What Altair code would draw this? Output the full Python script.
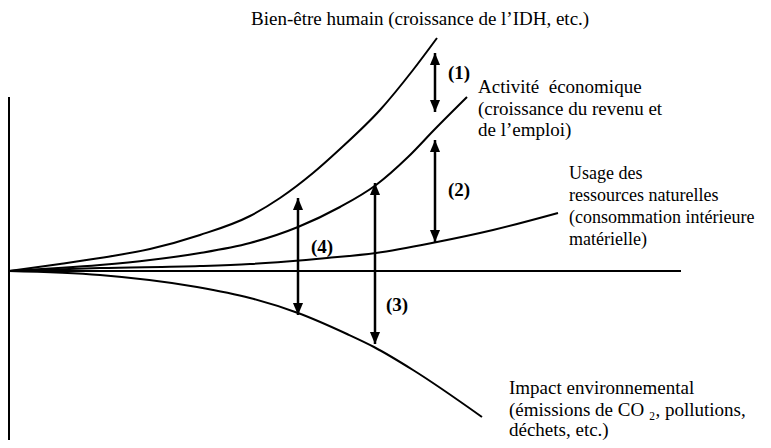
import altair as alt
import pandas as pd

# ---- curve data (t = time from origin, level = value relative to baseline) ----
wellbeing_t = [0, 51, 91, 141, 191, 241, 271, 304, 331, 371, 404, 428]
wellbeing_v = [0, 7, 13, 22, 36, 55, 73, 98, 122, 161, 201, 233]

activity_t = [0, 91, 141, 191, 241, 289, 331, 367, 399, 426, 458]
activity_v = [0, 6, 11, 18, 28, 44, 64, 86, 114, 142, 174]

resources_t = [0, 91, 191, 241, 318, 367, 428, 484, 549]
resources_v = [0, 3, 5, 7, 13, 18, 29, 41, 58]

impact_t = [0, 91, 188, 241, 289, 338, 365, 404, 473]
impact_v = [0, -4, -16, -27, -42, -63, -76, -99, -146]

# ---- axes (x, x2, y, y2) ----
axis_x = [0, 0]
axis_x2 = [672, 0]
axis_y = [0, 174]
axis_y2 = [0, -174]

# ---- double arrows ----
arrow_names = ["(1)", "(2)", "(4)", "(3)"]
arrow_t = [426, 426, 289, 366]
arrow_top = [218, 131, 73, 88]
arrow_bottom = [159, 29, -44, -73]
arrow_label_t = [450, 450, 313, 388]
arrow_label_v = [198, 81, 24, -34]

# ---- text labels ----
label_text = [
    "Bien-être humain (croissance de l’IDH, etc.)",
    "Activité\u00a0 économique",
    "(croissance du revenu et",
    "de l’emploi)",
    "Impact environnemental",
    "(émissions de CO\u00a0₂, pollutions,",
    "déchets, etc.)",
]
label_t = [242, 469, 469, 469, 500, 500, 500]
label_v = [252, 184, 162, 141, -117, -139, -159]

usage_text = [
    "Usage des",
    "ressources naturelles",
    "(consommation intérieure",
    "matérielle)",
]
usage_t = [560, 560, 560, 560]
usage_v = [97, 75, 53, 31]

# ---- build tables ----
rows = []
for name, ts, vs in [
    ("Bien-être", wellbeing_t, wellbeing_v),
    ("Activité", activity_t, activity_v),
    ("Ressources", resources_t, resources_v),
    ("Impact", impact_t, impact_v),
]:
    for t, v in zip(ts, vs):
        rows.append({"series": name, "t": t, "level": v})
curves = pd.DataFrame(rows)

axes_df = pd.DataFrame({"t": axis_x, "t2": axis_x2, "level": axis_y, "level2": axis_y2})
arrows_df = pd.DataFrame({"name": arrow_names, "t": arrow_t, "top": arrow_top, "bottom": arrow_bottom})
arrow_labels = pd.DataFrame({"text": arrow_names, "t": arrow_label_t, "level": arrow_label_v})
labels_df = pd.DataFrame({"text": label_text, "t": label_t, "level": label_v})
usage_df = pd.DataFrame({"text": usage_text, "t": usage_t, "level": usage_v})

xs = alt.Scale(domain=[-1, 754], nice=False, zero=False)
ys = alt.Scale(domain=[-169, 263], nice=False, zero=False)
X = lambda f: alt.X(f, type="quantitative", scale=xs, axis=None)
Y = lambda f: alt.Y(f, type="quantitative", scale=ys, axis=None)

lines = alt.Chart(curves).mark_line(
    interpolate="monotone", color="black", strokeWidth=2
).encode(x=X("t"), y=Y("level"), detail="series:N")

axes = alt.Chart(axes_df).mark_rule(color="black", strokeWidth=2).encode(
    x=X("t"), x2="t2", y=Y("level"), y2="level2"
)

shafts = alt.Chart(arrows_df).mark_rule(color="black", strokeWidth=2.5).encode(
    x=X("t"), y=Y("top"), y2="bottom"
)

head_up = alt.Chart(arrows_df).mark_point(
    shape="M0,0L-0.42,1L0.42,1Z", filled=True, size=576, color="black", opacity=1
).encode(x=X("t"), y=Y("top"))

head_down = alt.Chart(arrows_df).mark_point(
    shape="M0,0L-0.42,-1L0.42,-1Z", filled=True, size=576, color="black", opacity=1
).encode(x=X("t"), y=Y("bottom"))

num_text = alt.Chart(arrow_labels).mark_text(
    font="Liberation Serif", fontSize=19, fontWeight="bold", align="center",
    baseline="middle", color="black"
).encode(x=X("t"), y=Y("level"), text="text:N")

text = alt.Chart(labels_df).mark_text(
    font="Liberation Serif", fontSize=19, align="left", baseline="middle", color="black"
).encode(x=X("t"), y=Y("level"), text="text:N")

usage = alt.Chart(usage_df).mark_text(
    font="Liberation Serif", fontSize=18, align="left", baseline="middle", color="black"
).encode(x=X("t"), y=Y("level"), text="text:N")

chart = alt.layer(axes, lines, shafts, head_up, head_down, num_text, text, usage).properties(
    width=755, height=432, padding=0,
    autosize=alt.AutoSizeParams(type="none"),
    background="white",
).configure_view(stroke="transparent")

chart.save("out.html", embed_options={"renderer": "svg", "actions": False})
